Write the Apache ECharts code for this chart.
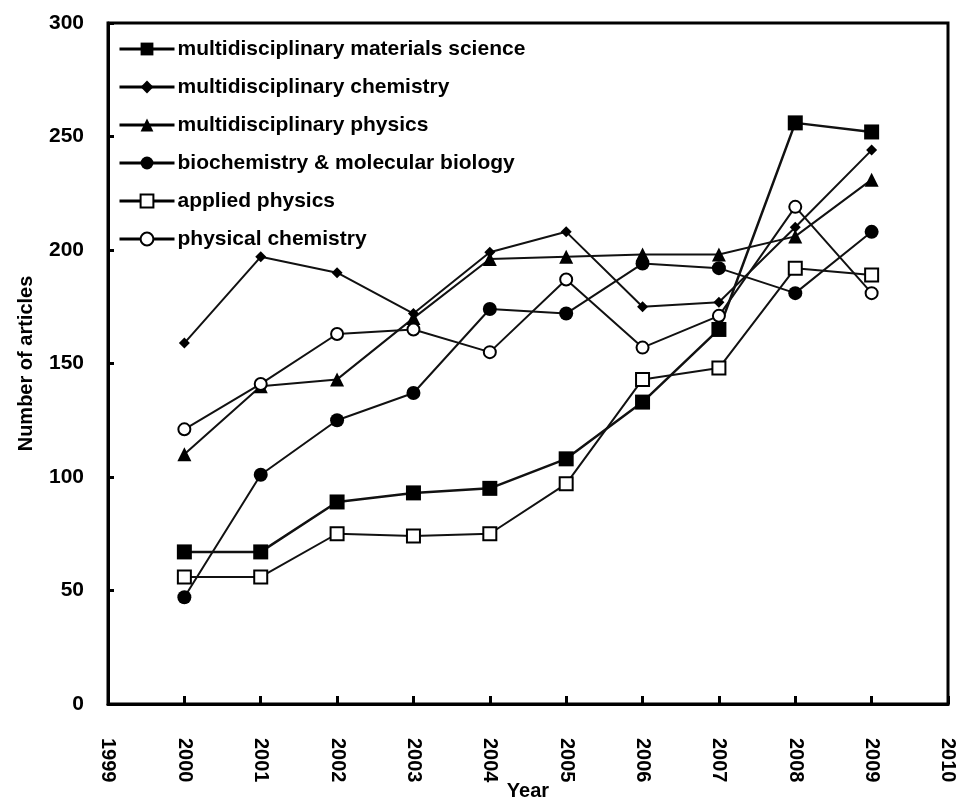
<!DOCTYPE html>
<html>
<head>
<meta charset="utf-8">
<script src="https://cdn.jsdelivr.net/npm/echarts@6/dist/echarts.min.js"></script>
<style>html,body{margin:0;padding:0;background:#fff}#c{width:960px;height:800px}</style>
</head>
<body>
<div id="c"></div>
<script>
const years = [2000, 2001, 2002, 2003, 2004, 2005, 2006, 2007, 2008, 2009];
const seriesNames = [
  'multidisciplinary materials science',
  'multidisciplinary chemistry',
  'multidisciplinary physics',
  'biochemistry & molecular biology',
  'applied physics',
  'physical chemistry'
];
const materialsScience = [67, 67, 89, 93, 95, 108, 133, 165, 256, 252];
const multiChemistry   = [159, 197, 190, 172, 199, 208, 175, 177, 210, 244];
const multiPhysics     = [110, 140, 143, 170, 196, 197, 198, 198, 206, 231];
const biochemistry     = [47, 101, 125, 137, 174, 172, 194, 192, 181, 208];
const appliedPhysics   = [56, 56, 75, 74, 75, 97, 143, 148, 192, 189];
const physChemistry    = [121, 141, 163, 165, 155, 187, 157, 171, 219, 181];
const yTicks = [0, 50, 100, 150, 200, 250, 300];

const allValues = [materialsScience, multiChemistry, multiPhysics, biochemistry, appliedPhysics, physChemistry];
const styles = [
  {symbol: 'rect', size: 15, fill: '#000', lw: 2.5},
  {symbol: 'diamond', size: 11, fill: '#000', lw: 2},
  {symbol: 'triangle', size: 14, fill: '#000', lw: 2},
  {symbol: 'circle', size: 14, fill: '#000', lw: 2},
  {symbol: 'rect', size: 13, fill: '#fff', lw: 2},
  {symbol: 'circle', size: 12, fill: '#fff', lw: 2}
];
const FONT = 'Liberation Sans';

const series = seriesNames.map((name, i) => ({
  name: name,
  type: 'line',
  data: years.map((y, j) => [y, allValues[i][j]]),
  symbol: styles[i].symbol,
  symbolSize: styles[i].size,
  showSymbol: true,
  lineStyle: {color: '#111', width: styles[i].lw},
  itemStyle: {color: styles[i].fill, borderColor: '#000', borderWidth: styles[i].fill === '#fff' ? 2 : 0},
  emphasis: {disabled: true},
  animation: false
}));

const legendData = seriesNames.map((name, i) => ({
  name: name,
  itemStyle: {color: styles[i].fill, borderColor: '#000', borderWidth: styles[i].fill === '#fff' ? 2 : 0},
  lineStyle: {width: 3, color: '#000'}
}));

const chart = echarts.init(document.getElementById('c'), null, {renderer: 'canvas'});
chart.setOption({
  backgroundColor: '#fff',
  animation: false,
  grid: {left: 108, right: 12, top: 23, bottom: 96, show: true, borderColor: '#000', borderWidth: 3,
    containLabel: false, outerBoundsMode: 'none'},
  legend: {
    show: true,
    orient: 'vertical',
    left: 113,
    top: 33,
    itemWidth: 55,
    itemHeight: 16,
    itemGap: 16,
    textStyle: {fontFamily: FONT, fontSize: 21, fontWeight: 'bold', color: '#000', lineHeight: 22, padding: [0, 0, 0, -2]},
    data: legendData
  },
  xAxis: {
    type: 'value',
    min: 1999,
    max: 2010,
    interval: 1,
    name: 'Year',
    nameLocation: 'middle',
    nameGap: 77,
    nameMoveOverlap: false,
    nameTextStyle: {fontFamily: FONT, fontSize: 20, fontWeight: 'bold', color: '#000'},
    axisLine: {show: true, lineStyle: {color: '#000', width: 3}},
    axisTick: {show: true, inside: true, length: 8, lineStyle: {color: '#000', width: 3}},
    splitLine: {show: false},
    axisLabel: {rotate: -90, margin: 34, fontFamily: FONT, fontSize: 20, fontWeight: 'bold', color: '#000', formatter: v => String(v)}
  },
  yAxis: {
    type: 'value',
    min: 0,
    max: 300,
    interval: 50,
    name: 'Number of articles',
    nameLocation: 'middle',
    nameGap: 72,
    nameMoveOverlap: false,
    nameTextStyle: {fontFamily: FONT, fontSize: 20, fontWeight: 'bold', color: '#000'},
    axisLine: {show: true, lineStyle: {color: '#000', width: 3}},
    axisTick: {show: true, inside: true, length: 6, lineStyle: {color: '#000', width: 3}},
    splitLine: {show: false},
    axisLabel: {margin: 24, fontFamily: FONT, fontSize: 21, fontWeight: 'bold', color: '#000',
      formatter: v => yTicks.indexOf(v) >= 0 ? String(v) : ''}
  },
  series: series
});
</script>
</body>
</html>
